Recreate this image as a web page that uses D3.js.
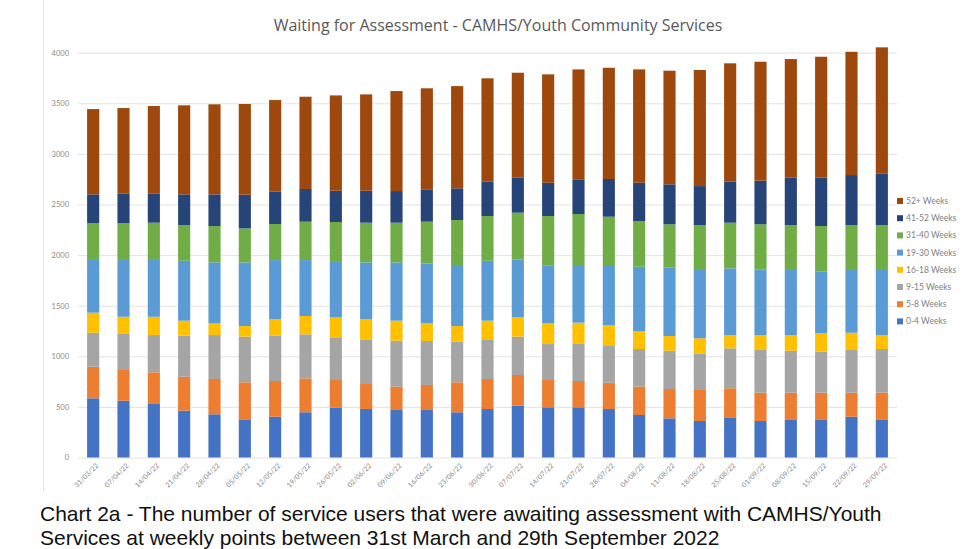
<!DOCTYPE html>
<html><head><meta charset="utf-8">
<script src="https://cdn.jsdelivr.net/npm/d3@7"></script>
<style>body{margin:0;background:#fff;} svg{display:block;}</style>
</head><body>
<svg id="c" width="976" height="549"></svg>
<script>
const dates = ["31/03/22","07/04/22","14/04/22","21/04/22","28/04/22","05/05/22","12/05/22","19/05/22","26/05/22","02/06/22","09/06/22","16/06/22","23/06/22","30/06/22","07/07/22","14/07/22","21/07/22","28/07/22","04/08/22","11/08/22","18/08/22","25/08/22","01/09/22","08/09/22","15/09/22","22/09/22","29/09/22"];
const seriesNames = ["0-4 Weeks","5-8 Weeks","9-15 Weeks","16-18 Weeks","19-30 Weeks","31-40 Weeks","41-52 Weeks","52+ Weeks"];
const w0_4   = [585,561,529,463,427,377,403,447,492,479,469,469,447,479,512,496,496,479,420,387,361,397,361,377,377,403,377];
const w5_8   = [312,304,313,335,349,366,353,335,274,247,231,247,296,297,303,270,260,260,280,290,306,287,279,263,263,237,263];
const w9_15  = [336,362,368,406,434,451,448,435,422,442,454,435,401,392,379,355,372,363,372,378,362,395,422,415,405,422,432];
const w16_18 = [198,164,181,148,116,105,161,181,197,200,198,175,155,184,191,205,204,207,178,145,149,131,148,155,182,171,138];
const w19_30 = [530,570,570,592,602,629,586,553,556,560,576,592,603,592,573,569,570,593,635,675,675,659,649,643,609,620,643];
const w31_40 = [353,353,359,353,359,336,356,379,386,392,392,412,445,442,461,491,504,477,452,429,444,451,445,444,451,444,444];
const w41_52 = [286,296,290,303,313,333,319,323,309,316,313,320,313,339,349,329,343,373,378,395,385,405,431,471,478,494,511];
const w52p   = [843,843,863,880,890,896,906,912,942,952,988,998,1010,1022,1034,1071,1086,1099,1120,1123,1147,1170,1176,1169,1195,1218,1245];
const colors = ["#4472C4","#ED7D31","#A5A5A5","#FFC000","#5B9BD5","#70AD47","#264478","#9E480E"];
const yTicks = [0,500,1000,1500,2000,2500,3000,3500,4000];

const seriesVals = [w0_4,w5_8,w9_15,w16_18,w19_30,w31_40,w41_52,w52p];
const rows = dates.map((d,i)=>{const r={date:d}; seriesNames.forEach((s,k)=>r[s]=seriesVals[k][i]); return r;});
const stacked = d3.stack().keys(seriesNames)(rows);

const svg = d3.select("#c");
svg.append("line").attr("x1",43.5).attr("x2",43.5).attr("y1",0).attr("y2",492).attr("stroke","#e6e6e6");

const m = {l:78,r:897,t:52.7,b:457.5};
const x = d3.scaleBand().domain(dates).range([m.l,m.r]).paddingInner(0.6).paddingOuter(0.3);
const y = d3.scaleLinear().domain([0,4000]).range([m.b,m.t]);

svg.append("g").selectAll("line").data(yTicks).join("line")
  .attr("x1",m.l).attr("x2",m.r).attr("y1",d=>y(d)+0.5).attr("y2",d=>y(d)+0.5)
  .attr("stroke","#e3e3e3").attr("stroke-width",1);

const ya = svg.append("g").attr("transform",`translate(${m.l-9},0)`)
  .call(d3.axisLeft(y).tickValues(yTicks).tickFormat(d3.format("d")).tickSize(0).tickPadding(0));
ya.select(".domain").remove();
ya.selectAll("text").attr("font-family","Lato, sans-serif").attr("font-size",7.5).attr("fill","#8a8a8a");

svg.append("g").selectAll("g").data(stacked).join("g")
  .attr("fill",(d,i)=>colors[i])
  .selectAll("rect").data(d=>d).join("rect")
  .attr("x",d=>x(d.data.date)).attr("width",x.bandwidth())
  .attr("y",d=>y(d[1])).attr("height",d=>y(d[0])-y(d[1]));

const xa = svg.append("g").attr("transform",`translate(0,${m.b+4})`)
  .call(d3.axisBottom(x).tickSize(0).tickPadding(0));
xa.select(".domain").remove();
xa.selectAll("text").attr("font-family","Lato, sans-serif").attr("font-size",7).attr("fill","#8a8a8a")
  .attr("text-anchor","end").attr("dy","0.35em")
  .attr("transform","translate(4,3) rotate(-45)");

svg.append("text").attr("x",498).attr("y",31).attr("text-anchor","middle")
  .attr("font-family","'Open Sans', Lato, sans-serif").attr("font-size",16).attr("fill","#595959")
  .text("Waiting for Assessment - CAMHS/Youth Community Services");

const leg = svg.append("g");
const legItems = seriesNames.slice().reverse();
legItems.forEach((s,i)=>{
  const yy = 201 + i*17.2;
  leg.append("rect").attr("x",897).attr("y",yy-3).attr("width",6).attr("height",6)
    .attr("fill",colors[seriesNames.indexOf(s)]);
  leg.append("text").attr("x",906).attr("y",yy).attr("dy","0.35em")
    .attr("font-family","Lato, sans-serif").attr("font-size",8.5).attr("fill","#7f7f7f").text(s);
});

const cap = svg.append("g").attr("font-family","'Liberation Sans', Arial, sans-serif").attr("font-size",21).attr("fill","#111");
cap.append("text").attr("x",40).attr("y",521).text("Chart 2a - The number of service users that were awaiting assessment with CAMHS/Youth");
cap.append("text").attr("x",40).attr("y",545).text("Services at weekly points between 31st March and 29th September 2022");
</script>
</body></html>
